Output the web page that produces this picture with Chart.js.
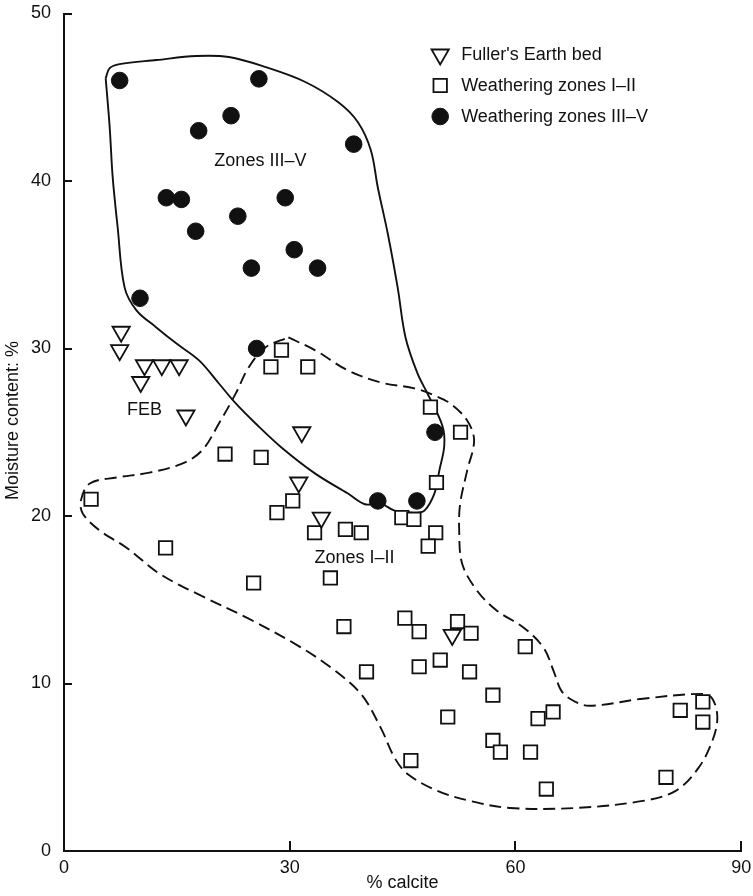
<!DOCTYPE html>
<html><head><meta charset="utf-8">
<script src="https://cdn.jsdelivr.net/npm/chart.js@4.4.1/dist/chart.umd.min.js"></script>
<style>html,body{margin:0;padding:0;background:#fff}#c{display:block}</style>
</head><body>
<canvas id="c" width="753" height="896"></canvas>
<script>
// ---- tick labels ----
const xTickValues = [0, 30, 60, 90];
const yTickValues = [0, 10, 20, 30, 40, 50];
const xTitle = '% calcite';
const yTitle = 'Moisture content: %';

// ---- series names ----
const seriesNames = ["Fuller's Earth bed", 'Weathering zones I–II', 'Weathering zones III–V'];

// ---- Fuller's Earth bed (triangles) ----
const febX = [7.6, 7.4, 10.7, 13.0, 15.3, 10.2, 16.2, 31.6, 31.2, 34.2, 51.6];
const febY = [31.0, 29.9, 29.0, 29.0, 29.0, 28.0, 26.0, 25.0, 22.0, 19.9, 12.9];

// ---- Weathering zones I–II (squares) ----
const z12X = [28.9, 27.5, 32.4, 48.7, 52.7, 21.4, 26.2, 49.5, 3.6, 30.4, 28.3, 44.9, 46.5, 33.3, 37.4,
              39.5, 49.4, 48.4, 13.5, 35.4, 25.2, 37.2, 45.3, 47.2, 52.3, 54.1, 61.3, 40.2, 47.2, 50.0,
              53.9, 57.0, 51.0, 63.0, 65.0, 57.0, 58.0, 62.0, 46.1, 64.1, 81.9, 84.9, 84.9, 80.0];
const z12Y = [29.9, 28.9, 28.9, 26.5, 25.0, 23.7, 23.5, 22.0, 21.0, 20.9, 20.2, 19.9, 19.8, 19.0, 19.2,
              19.0, 19.0, 18.2, 18.1, 16.3, 16.0, 13.4, 13.9, 13.1, 13.7, 13.0, 12.2, 10.7, 11.0, 11.4,
              10.7, 9.3, 8.0, 7.9, 8.3, 6.6, 5.9, 5.9, 5.4, 3.7, 8.4, 8.9, 7.7, 4.4];

// ---- Weathering zones III–V (filled circles) ----
const z35X = [7.4, 25.9, 22.2, 17.9, 38.5, 13.6, 15.6, 29.4, 23.1, 17.5, 30.6, 24.9, 33.7, 10.1, 25.6, 49.3, 41.7, 46.9];
const z35Y = [46.0, 46.1, 43.9, 43.0, 42.2, 39.0, 38.9, 39.0, 37.9, 37.0, 35.9, 34.8, 34.8, 33.0, 30.0, 25.0, 20.9, 20.9];

// ---- hand-drawn zone boundaries (in data units) ----
const boundIII_V_X = [5.54, 6.07, 7.39, 12.27, 17.55, 21.91, 26.79, 32.07, 36.42, 39.06, 40.78, 41.70, 43.02, 44.34,
                      45.39, 46.98, 48.30, 50.28, 50.54, 49.88, 49.22, 47.90, 46.71, 43.94, 42.10, 40.00, 37.74,
                      33.39, 28.90, 25.47, 22.83, 20.59, 17.95, 14.91, 12.27, 9.63, 8.05, 7.13, 6.47, 6.07, 5.54];
const boundIII_V_Y = [46.14, 46.74, 46.98, 47.22, 47.46, 47.40, 46.80, 45.91, 44.71, 43.51, 41.84, 39.63, 36.88, 33.65,
                      30.66, 28.51, 27.32, 25.40, 24.21, 22.71, 21.34, 20.32, 20.20, 20.32, 20.74, 20.70, 21.34,
                      22.53, 24.09, 25.52, 26.72, 27.91, 29.29, 30.31, 31.26, 32.28, 33.65, 37.24, 40.23, 43.22, 46.14];

const boundI_II_X = [29.82, 33.39, 37.74, 42.10, 46.58, 49.22, 51.33, 53.58, 54.50, 53.58, 52.65, 52.52, 52.92, 54.90,
                     57.53, 61.10, 63.74, 65.06, 66.11, 67.70, 69.81, 76.93, 84.85, 86.17, 86.83, 86.17, 84.32, 81.29,
                     76.93, 68.09, 59.25, 53.97, 49.62, 45.66, 43.94, 42.10, 39.46, 35.50, 31.14, 24.54, 17.95, 12.67,
                     8.31, 4.75, 2.51, 2.24, 3.43, 6.99, 11.35, 15.70, 18.34, 20.59, 22.83, 24.54, 26.79, 29.82];
const boundI_II_Y = [30.66, 29.89, 28.69, 27.97, 27.62, 27.20, 26.72, 25.70, 24.51, 22.71, 20.74, 19.13, 17.15, 15.54,
                     14.35, 13.33, 12.13, 10.76, 9.56, 8.97, 8.67, 9.09, 9.38, 9.09, 7.95, 6.58, 4.96, 3.59,
                     2.99, 2.57, 2.57, 2.99, 3.59, 4.60, 5.56, 7.35, 9.38, 10.94, 12.25, 13.87, 15.30, 16.56,
                     18.11, 19.13, 20.14, 20.92, 21.94, 22.30, 22.59, 23.13, 23.91, 25.52, 27.32, 28.87, 30.07, 30.66];

// ---- zone labels (text and anchor in data units) ----
const zoneLabelText = ['Zones III–V', 'FEB', 'Zones I–II'];
const zoneLabelX = [26.1, 10.7, 38.6];
const zoneLabelY = [41.2, 26.3, 17.5];

const pts = (xs, ys) => xs.map((x, i) => ({x, y: ys[i]}));
const FONT = "'Liberation Sans', Arial, Helvetica, sans-serif";
const FS = 18;
const INK = '#111';

const markerStyles = {
  feb: {pointStyle: 'triangle', radius: 10, rotation: 180, borderWidth: 1.8, borderColor: INK, backgroundColor: '#fff'},
  z12: {pointStyle: 'rect', radius: 9.5, rotation: 0, borderWidth: 1.8, borderColor: INK, backgroundColor: '#fff'},
  z35: {pointStyle: 'circle', radius: 8.3, rotation: 0, borderWidth: 1, borderColor: INK, backgroundColor: INK}
};

function mk(label, xs, ys, st, order) {
  return {
    label, data: pts(xs, ys), order, showLine: false, isSeries: true,
    pointStyle: st.pointStyle, pointRadius: st.radius, pointRotation: st.rotation,
    pointBorderWidth: st.borderWidth, pointBorderColor: st.borderColor, pointBackgroundColor: st.backgroundColor,
    borderColor: st.borderColor, backgroundColor: st.backgroundColor
  };
}
function bound(label, xs, ys, dash, order) {
  return {
    label, data: pts(xs, ys), order, showLine: true, isSeries: false,
    pointRadius: 0, borderColor: INK, borderWidth: 1.9, borderDash: dash, tension: 0.35, fill: false
  };
}

const legendPlugin = {
  id: 'seriesLegend',
  afterDraw(chart) {
    const ctx = chart.ctx;
    const ca = chart.chartArea;
    const mx = ca.right - 301, tx = ca.right - 280;
    const ys = [ca.top + 41, ca.top + 72, ca.top + 103];
    chart.data.datasets.filter(d => d.isSeries).forEach((d, i) => {
      ctx.save();
      ctx.lineWidth = d.pointBorderWidth;
      ctx.strokeStyle = d.pointBorderColor;
      ctx.fillStyle = d.pointBackgroundColor;
      Chart.helpers.drawPoint(ctx, {pointStyle: d.pointStyle, radius: d.pointRadius, rotation: d.pointRotation, borderWidth: d.pointBorderWidth}, mx, ys[i]);
      ctx.restore();
      ctx.save();
      ctx.fillStyle = INK;
      ctx.font = FS + 'px ' + FONT;
      ctx.textAlign = 'left';
      ctx.textBaseline = 'middle';
      ctx.fillText(d.label, tx, ys[i] + 1);
      ctx.restore();
    });
  }
};

const annotatePlugin = {
  id: 'zoneText',
  afterDatasetsDraw(chart) {
    const ctx = chart.ctx, xs = chart.scales.x, ys = chart.scales.y;
    ctx.save();
    ctx.fillStyle = INK;
    ctx.font = FS + 'px ' + FONT;
    ctx.textAlign = 'center';
    ctx.textBaseline = 'middle';
    zoneLabelText.forEach((t, i) => ctx.fillText(t, xs.getPixelForValue(zoneLabelX[i]), ys.getPixelForValue(zoneLabelY[i])));
    ctx.restore();
  }
};

// y-axis title, centred a little above the middle of the axis as in the figure
const yTitlePlugin = {
  id: 'yTitle',
  afterDraw(chart) {
    const ctx = chart.ctx, ys = chart.scales.y;
    ctx.save();
    ctx.translate(13, ys.getPixelForValue(25.7));
    ctx.rotate(-Math.PI / 2);
    ctx.fillStyle = INK;
    ctx.font = FS + 'px ' + FONT;
    ctx.textAlign = 'center';
    ctx.textBaseline = 'middle';
    ctx.fillText(yTitle, 0, 0);
    ctx.restore();
  }
};

const tickPlugin = {
  id: 'inwardTicks',
  afterDraw(chart) {
    const ctx = chart.ctx, xs = chart.scales.x, ys = chart.scales.y, ca = chart.chartArea;
    ctx.save();
    ctx.strokeStyle = INK;
    ctx.lineWidth = 2;
    ctx.beginPath();
    xTickValues.slice(1).forEach(v => {
      const p = Math.round(xs.getPixelForValue(v));
      ctx.moveTo(p, ca.bottom); ctx.lineTo(p, ca.bottom - 10);
    });
    yTickValues.slice(1).forEach(v => {
      const p = Math.round(ys.getPixelForValue(v));
      ctx.moveTo(ca.left, p); ctx.lineTo(ca.left + 8, p);
    });
    ctx.stroke();
    ctx.restore();
  }
};

new Chart(document.getElementById('c'), {
  type: 'scatter',
  data: {
    datasets: [
      mk(seriesNames[0], febX, febY, markerStyles.feb, 1),
      mk(seriesNames[1], z12X, z12Y, markerStyles.z12, 2),
      mk(seriesNames[2], z35X, z35Y, markerStyles.z35, 0),
      bound('Zones III–V boundary', boundIII_V_X, boundIII_V_Y, [], 3),
      bound('Zones I–II boundary', boundI_II_X, boundI_II_Y, [12, 6], 4)
    ]
  },
  options: {
    responsive: false,
    animation: false,
    events: [],
    layout: {padding: {left: 0, right: 8, top: 13.5, bottom: 0}},
    plugins: {legend: {display: false}, tooltip: {enabled: false}},
    scales: {
      x: {
        type: 'linear', min: 0, max: 90,
        afterBuildTicks: s => { s.ticks = xTickValues.map(v => ({value: v})); },
        afterFit: s => { s.height = 45; s.paddingLeft = 0; s.paddingRight = 0; },
        grid: {display: false},
        border: {display: true, color: INK, width: 2},
        ticks: {color: INK, font: {family: FONT, size: FS}, padding: -2, maxRotation: 0, autoSkip: false},
        title: {display: true, text: xTitle, color: INK, font: {family: FONT, size: FS}, padding: {top: 0, bottom: 2}}
      },
      y: {
        type: 'linear', min: 0, max: 50,
        afterBuildTicks: s => { s.ticks = yTickValues.map(v => ({value: v})); },
        afterFit: s => { s.width = 64; s.paddingTop = 0; s.paddingBottom = 0; },
        grid: {display: false},
        border: {display: true, color: INK, width: 2},
        ticks: {color: INK, font: {family: FONT, size: FS}, padding: 5, autoSkip: false},
        title: {display: false}
      }
    }
  },
  plugins: [tickPlugin, annotatePlugin, legendPlugin, yTitlePlugin]
});
</script>
</body></html>
